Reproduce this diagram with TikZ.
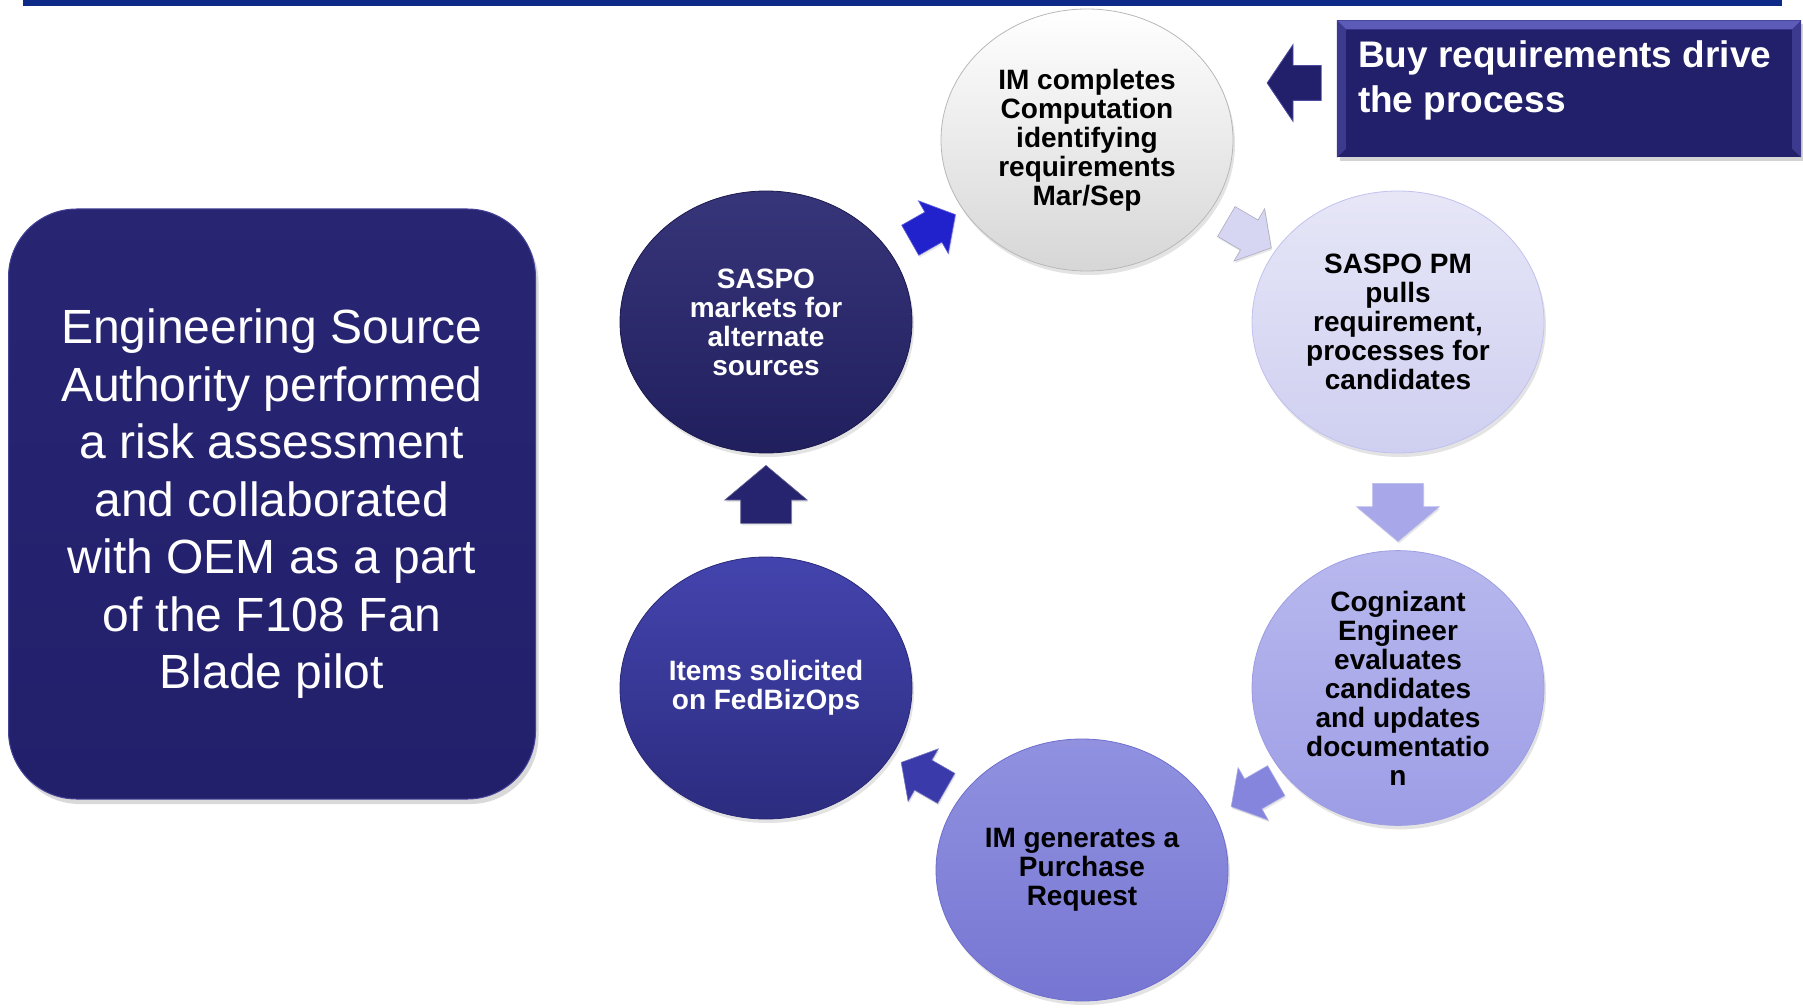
\documentclass[tikz,border=0pt]{standalone}
\usepackage{fontspec}
\setmainfont{Liberation Sans}
\usetikzlibrary{shapes.geometric,shapes.arrows,shadows,calc,positioning}

\definecolor{barblue}{HTML}{0E2A88}
\definecolor{navy}{HTML}{221F6B}
\definecolor{navyrim}{HTML}{5C5CB8}
\definecolor{arrA}{HTML}{2222CC}
\definecolor{arrB}{HTML}{D6D6F2}
\definecolor{arrC}{HTML}{A7A7EA}
\definecolor{arrD}{HTML}{8585DD}
\definecolor{arrE}{HTML}{3A3AAA}
\definecolor{arrF}{HTML}{26246E}

\tikzset{
	stage/.style={ellipse,minimum width=292pt,minimum height=262pt,inner sep=0pt,
		align=center,font=\bfseries\fontsize{28}{29}\selectfont,line width=0.8pt,
		drop shadow={opacity=0.22,shadow xshift=2pt,shadow yshift=-4pt}},
	flow/.style={single arrow,minimum height=58pt,inner xsep=0pt,inner ysep=25pt,
		single arrow head extend=16pt,single arrow tip angle=100,
		sloped,allow upside down,line width=0.6pt,
		drop shadow={opacity=0.2,shadow xshift=1pt,shadow yshift=-2pt}},
	flow small/.style={flow,minimum height=52pt,inner ysep=17pt,
		single arrow head extend=13pt},
	infobox/.style={rectangle,rounded corners=68pt,minimum width=527pt,minimum height=590pt,
		top color=navy!90!navyrim,bottom color=navy,draw=navyrim!60!navy,line width=1pt,
		text=white,align=center,font=\fontsize{48}{57.5}\selectfont,
		drop shadow={opacity=0.3,shadow xshift=3pt,shadow yshift=-5pt}},
	buybox/.style={rectangle,minimum width=464pt,minimum height=137pt,fill=navy,
		drop shadow={opacity=0.35,shadow xshift=3pt,shadow yshift=-4pt}},
	buytext/.style={inner sep=0pt,text=white,align=left,
		font=\bfseries\fontsize{37}{45}\selectfont},
	pointer/.style={single arrow,shape border rotate=180,minimum height=54pt,
		inner xsep=0pt,inner ysep=17pt,single arrow head extend=21pt,single arrow tip angle=112,
		fill=navy,draw=navyrim!70!navy,line width=0.8pt}
}

\begin{document}
\begin{tikzpicture}[x=1pt,y=-1pt]
	\useasboundingbox (0,0) rectangle (1803,1008);
	% rule along the top
	\fill[barblue] (23,0) rectangle (1782,6);

	% summary box on the left
	\node[infobox] (esa) at (272,504) {Engineering Source\\Authority performed\\a risk assessment\\and collaborated\\with OEM as a part\\of the F108 Fan\\Blade pilot};

	% the cycle
	\node[stage,top color=white,bottom color=black!16,draw=black!28] (compute) at (1087,140)
		{IM completes\\Computation\\identifying\\requirements\\Mar/Sep};
	\node[stage,top color=arrB!60!white,bottom color=arrB!85!arrC,draw=arrC!70!white] (pulls) at (1398,322)
		{SASPO PM\\pulls\\requirement,\\processes for\\candidates};
	\node[stage,top color=arrC!80!white,bottom color=arrC!70!arrD,draw=arrD!80!white] (evaluate) at (1398,688)
		{Cognizant\\Engineer\\evaluates\\candidates\\and updates\\documentatio\\n};
	\node[stage,top color=arrD!90!white,bottom color=arrD!80!arrE,draw=arrD!70!arrE] (request) at (1082,870)
		{IM generates a\\Purchase\\Request};
	\node[stage,top color=arrE!95!white,bottom color=arrE!75!black,draw=arrE!70!black,text=white] (solicit) at (766,688)
		{Items solicited\\on FedBizOps};
	\node[stage,top color=arrF!92!white,bottom color=arrF!85!black,draw=arrF!70!black,text=white] (market) at (766,322)
		{SASPO\\markets for\\alternate\\sources};

	% arrows between the stages
	\path (market) -- node[flow small,fill=arrA,draw=arrA!70!white] (a1) {} (compute);
	\path (compute) -- node[flow small,fill=arrB,draw=arrB!80!black] (a2) {} (pulls);
	\path (pulls) -- node[flow,fill=arrC,draw=arrC!80!white] (a3) {} (evaluate);
	\path ($(evaluate)+(20,11)$) -- node[flow small,fill=arrD,draw=arrD!70!white] (a4) {} ($(request)+(20,11)$);
	\path ($(request)+(6,0)$) -- node[flow small,fill=arrE,draw=arrE!70!white] (a5) {} ($(solicit)+(6,0)$);
	\path (solicit) -- node[flow,fill=arrF,draw=arrF!70!white] (a6) {} (market);

	% note on the right
	\node[buybox] (buy) at (1569,89) {};
	\fill[navyrim] (buy.north west) -- (buy.north east) -- ++(-9,9)
		-- ($(buy.north west)+(9,9)$) -- cycle;
	\fill[navyrim!45!navy] (buy.north west) -- ($(buy.north west)+(9,9)$)
		-- ($(buy.south west)+(9,-9)$) -- (buy.south west) -- cycle;
	\fill[navyrim!45!navy] (buy.north east) -- ($(buy.north east)+(-9,9)$)
		-- ($(buy.south east)+(-9,-9)$) -- (buy.south east) -- cycle;
	\node[buytext,anchor=north west] (buylabel) at ($(buy.north west)+(21,20)$)
		{Buy requirements drive\\the process};
	\node[pointer] (ptr) at (1300,83) {};
\end{tikzpicture}
\end{document}
